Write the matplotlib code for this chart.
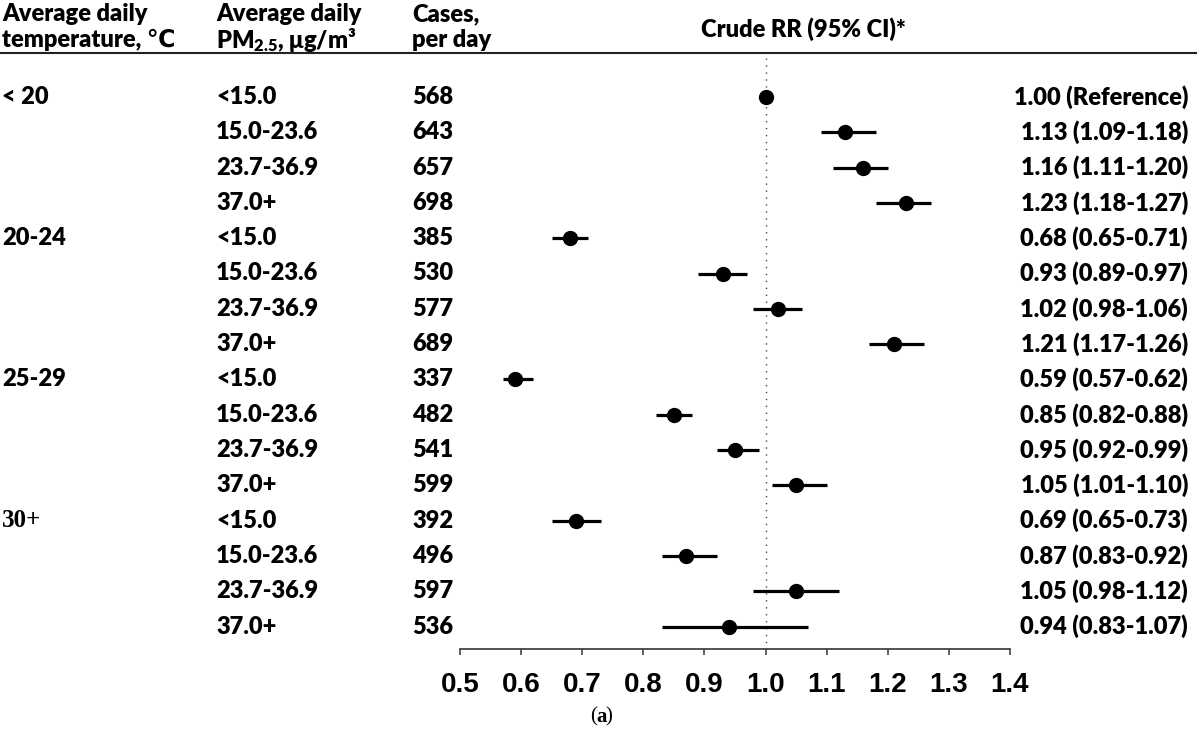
import matplotlib
matplotlib.use("Agg")
import matplotlib.pyplot as plt
import matplotlib.transforms as mtransforms
from matplotlib.lines import Line2D

# data
temp_groups = ["< 20", "20-24", "25-29", "30+"]
pm_bins = ["<15.0", "15.0-23.6", "23.7-36.9", "37.0+"]
cases = [568, 643, 657, 698, 385, 530, 577, 689,
         337, 482, 541, 599, 392, 496, 597, 536]
rr = [1.00, 1.13, 1.16, 1.23, 0.68, 0.93, 1.02, 1.21,
      0.59, 0.85, 0.95, 1.05, 0.69, 0.87, 1.05, 0.94]
lo = [1.00, 1.09, 1.11, 1.18, 0.65, 0.89, 0.98, 1.17,
      0.57, 0.82, 0.92, 1.01, 0.65, 0.83, 0.98, 0.83]
hi = [1.00, 1.18, 1.20, 1.27, 0.71, 0.97, 1.06, 1.26,
      0.62, 0.88, 0.99, 1.10, 0.73, 0.92, 1.12, 1.07]
rr_labels = ["1.00 (Reference)"] + [
    "%.2f (%.2f-%.2f)" % (r, a, b) for r, a, b in zip(rr[1:], lo[1:], hi[1:])]
xticks = [0.5, 0.6, 0.7, 0.8, 0.9, 1.0, 1.1, 1.2, 1.3, 1.4]

plt.rcParams['font.family'] = ['Lato', 'DejaVu Sans']
plt.rcParams['mathtext.fontset'] = 'custom'
plt.rcParams['mathtext.rm'] = 'Lato:heavy'
plt.rcParams['mathtext.it'] = 'Lato:heavy'
plt.rcParams['mathtext.bf'] = 'Lato:heavy'

W, H = 1197, 731
fig = plt.figure(figsize=(W / 100, H / 100), dpi=100)

top_px, axis_px = 53, 649
row0, step = 97, 35.3
ytop = (top_px - row0) / step
ybot = (axis_px - row0) / step

ax = fig.add_axes([460 / W, 1 - axis_px / H, 550 / W, (axis_px - top_px) / H])
ax.set_xlim(0.5, 1.4)
ax.set_ylim(ybot, ytop)

n = len(rr)
rows = list(range(n))

# reference line
ax.plot([1.0, 1.0], [ytop + 0.15, ybot], color='#444444', lw=1.0,
        linestyle=(0, (1, 4)), zorder=1)
# CI and estimates
ax.hlines(rows, lo, hi, color='black', lw=2.3, zorder=2)
ax.plot(rr, rows, 'o', color='black', markersize=10, zorder=3)

for s in ['top', 'left', 'right']:
    ax.spines[s].set_visible(False)
ax.spines['bottom'].set_color('#444444')
ax.spines['bottom'].set_linewidth(1.3)
ax.set_yticks([])
ax.set_xticks(xticks)
ax.set_xticklabels(["%.1f" % t for t in xticks], fontfamily='Liberation Sans',
                   fontweight='bold', fontsize=20)
ax.tick_params(axis='x', direction='out', length=4.5, width=1.2, color='#444444', pad=12)

# table text
tr = mtransforms.blended_transform_factory(fig.transFigure, ax.transData)
fs = 17
fw = 'heavy'
for i in range(n):
    if i % 4 == 0:
        g = temp_groups[i // 4]
        if g == "30+":
            ax.text(2 / W, i, g, transform=tr, fontsize=18, fontweight='bold',
                    family='Liberation Serif', va='center', ha='left')
        else:
            ax.text(2 / W, i, g, transform=tr, fontsize=fs, fontweight=fw,
                    va='center', ha='left')
    ax.text(216 / W, i, pm_bins[i % 4], transform=tr, fontsize=fs,
            fontweight=fw, va='center', ha='left')
    ax.text(412 / W, i, str(cases[i]), transform=tr, fontsize=fs,
            fontweight=fw, va='center', ha='left')
    ax.text(1188 / W, i, rr_labels[i], transform=tr, fontsize=fs,
            fontweight=fw, va='center', ha='right')

# headers
h1, h2 = 1 - 14 / H, 1 - 40 / H
fig.text(2 / W, h1, "Average daily", fontsize=fs, fontweight=fw, va='center')
fig.text(2 / W, h2, "temperature, ℃", fontsize=fs, fontweight=fw, va='center')
fig.text(216 / W, h1, "Average daily", fontsize=fs, fontweight=fw, va='center')
fig.text(216 / W, h2, "PM$_{2.5}$, μg/m³", fontsize=fs, fontweight=fw, va='center')
fig.text(412 / W, h1, "Cases,", fontsize=fs, fontweight=fw, va='center')
fig.text(412 / W, h2, "per day", fontsize=fs, fontweight=fw, va='center')
fig.text(803 / W, 1 - 29 / H, "Crude RR (95% CI)*", fontsize=fs,
         fontweight=fw, va='center', ha='center')

fig.add_artist(Line2D([0, 1], [1 - top_px / H, 1 - top_px / H],
                      transform=fig.transFigure, color='#222222', lw=1.5))

fig.text(590 / W, 1 - 717 / H, "(", fontsize=15, family='Liberation Serif',
         va='center', ha='left')
fig.text(596 / W, 1 - 717 / H, "a", fontsize=15, family='Liberation Serif',
         fontweight='bold', va='center', ha='left')
fig.text(605 / W, 1 - 717 / H, ")", fontsize=15, family='Liberation Serif',
         va='center', ha='left')

fig.savefig("out.png", dpi=100)
